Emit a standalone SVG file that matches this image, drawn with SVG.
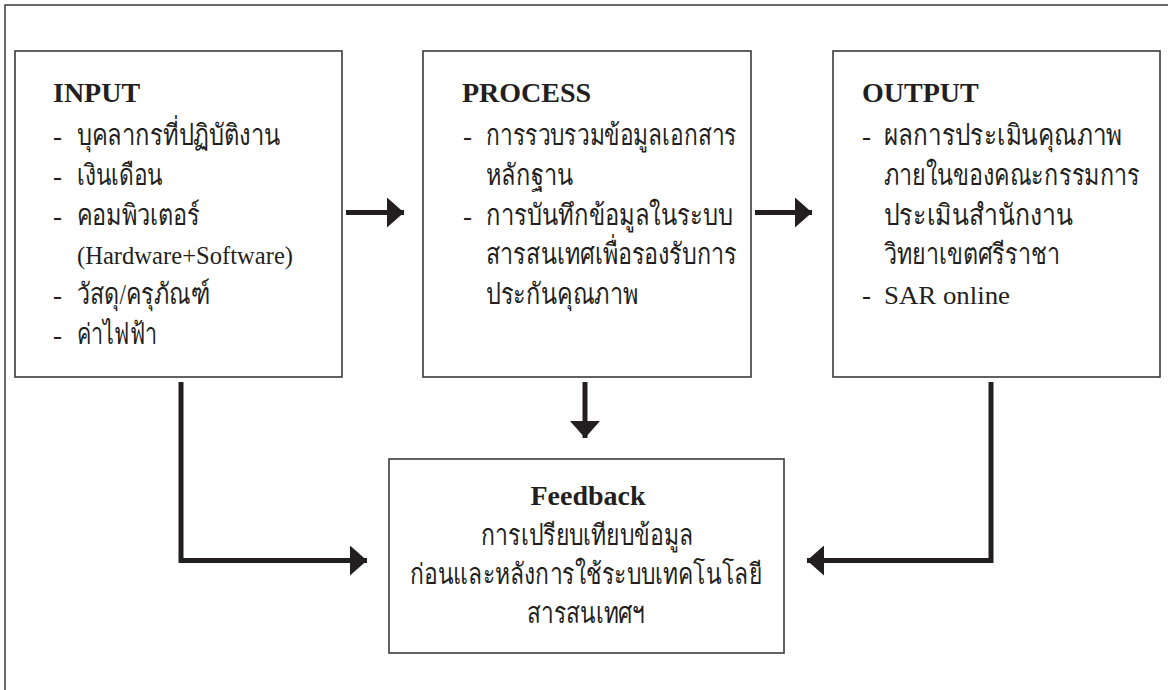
<svg xmlns="http://www.w3.org/2000/svg" width="1168" height="690" viewBox="0 0 1168 690">
<defs>
<style>
.frame{fill:none;stroke:#3a3a3a;stroke-width:1.5}
.box{fill:#fff;stroke:#3a3a3a;stroke-width:1.6}
.t{font-family:"Liberation Serif",serif;font-size:29px;fill:#231f20}
.d{font-family:"Liberation Serif",serif;font-size:27px;fill:#231f20}
.en{font-family:"Liberation Serif",serif;font-size:25px;fill:#231f20}
.h{font-family:"Liberation Serif",serif;font-size:28px;font-weight:bold;fill:#231f20}
.c{text-anchor:middle}
.conn{fill:none;stroke:#231f20;stroke-width:5;stroke-linejoin:miter}
</style>
<marker id="ah" markerUnits="userSpaceOnUse" markerWidth="17" markerHeight="30" refX="17" refY="15" orient="auto">
<path d="M0,0 L17,15 L0,30 Z" fill="#231f20"/>
</marker>
</defs>
<rect fill="#fff" width="1168" height="690"/>
<path class="frame" d="M5,690 V5 H1168"/>

<g id="input">
<rect class="box" x="15" y="51" width="327" height="326"/>
<text class="h" x="53" y="102">INPUT</text>
<text class="d" x="53" y="145">-</text><text class="t" x="77" y="145" textLength="203" lengthAdjust="spacingAndGlyphs">บุคลากรที่ปฏิบัติงาน</text>
<text class="d" x="53" y="185">-</text><text class="t" x="77" y="185" textLength="86" lengthAdjust="spacingAndGlyphs">เงินเดือน</text>
<text class="d" x="53" y="225">-</text><text class="t" x="77" y="225" textLength="123" lengthAdjust="spacingAndGlyphs">คอมพิวเตอร์</text>
<text class="en" x="77" y="264" textLength="216" lengthAdjust="spacingAndGlyphs">(Hardware+Software)</text>
<text class="d" x="53" y="304">-</text><text class="t" x="77" y="304" textLength="133" lengthAdjust="spacingAndGlyphs">วัสดุ/ครุภัณฑ์</text>
<text class="d" x="53" y="344">-</text><text class="t" x="77" y="344" textLength="80" lengthAdjust="spacingAndGlyphs">ค่าไฟฟ้า</text>
</g>

<g id="process">
<rect class="box" x="423" y="51" width="328" height="326"/>
<text class="h" x="462" y="102">PROCESS</text>
<text class="d" x="463" y="145">-</text><text class="t" x="486" y="145" textLength="251" lengthAdjust="spacingAndGlyphs">การรวบรวมข้อมูลเอกสาร</text>
<text class="t" x="486" y="185" textLength="87" lengthAdjust="spacingAndGlyphs">หลักฐาน</text>
<text class="d" x="463" y="225">-</text><text class="t" x="486" y="225" textLength="247" lengthAdjust="spacingAndGlyphs">การบันทึกข้อมูลในระบบ</text>
<text class="t" x="486" y="264" textLength="251" lengthAdjust="spacingAndGlyphs">สารสนเทศเพื่อรองรับการ</text>
<text class="t" x="486" y="304" textLength="152" lengthAdjust="spacingAndGlyphs">ประกันคุณภาพ</text>
</g>

<g id="output">
<rect class="box" x="833" y="51" width="327" height="326"/>
<text class="h" x="862" y="102">OUTPUT</text>
<text class="d" x="862" y="145">-</text><text class="t" x="884" y="145" textLength="238" lengthAdjust="spacingAndGlyphs">ผลการประเมินคุณภาพ</text>
<text class="t" x="884" y="185" textLength="256" lengthAdjust="spacingAndGlyphs">ภายในของคณะกรรมการ</text>
<text class="t" x="884" y="225" textLength="189" lengthAdjust="spacingAndGlyphs">ประเมินสำนักงาน</text>
<text class="t" x="884" y="264" textLength="176" lengthAdjust="spacingAndGlyphs">วิทยาเขตศรีราชา</text>
<text class="d" x="862" y="304">-</text><text class="en" x="884" y="304" textLength="126" lengthAdjust="spacingAndGlyphs">SAR online</text>
</g>

<g id="feedback">
<rect class="box" x="389" y="459" width="395" height="194"/>
<text class="h c" x="588" y="505">Feedback</text>
<text class="t c" x="587" y="545" textLength="212" lengthAdjust="spacingAndGlyphs">การเปรียบเทียบข้อมูล</text>
<text class="t c" x="586" y="584" textLength="352" lengthAdjust="spacingAndGlyphs">ก่อนและหลังการใช้ระบบเทคโนโลยี</text>
<text class="t c" x="586" y="623" textLength="118" lengthAdjust="spacingAndGlyphs">สารสนเทศฯ</text>
</g>

<g id="connectors">
<path class="conn" d="M346,212.5 H404" marker-end="url(#ah)"/>
<path class="conn" d="M755,212.5 H812" marker-end="url(#ah)"/>
<path class="conn" d="M585,382 V438" marker-end="url(#ah)"/>
<path class="conn" d="M181,382 V560.5 H367" marker-end="url(#ah)"/>
<path class="conn" d="M991,382 V560.5 H807" marker-end="url(#ah)"/>
</g>
</svg>
